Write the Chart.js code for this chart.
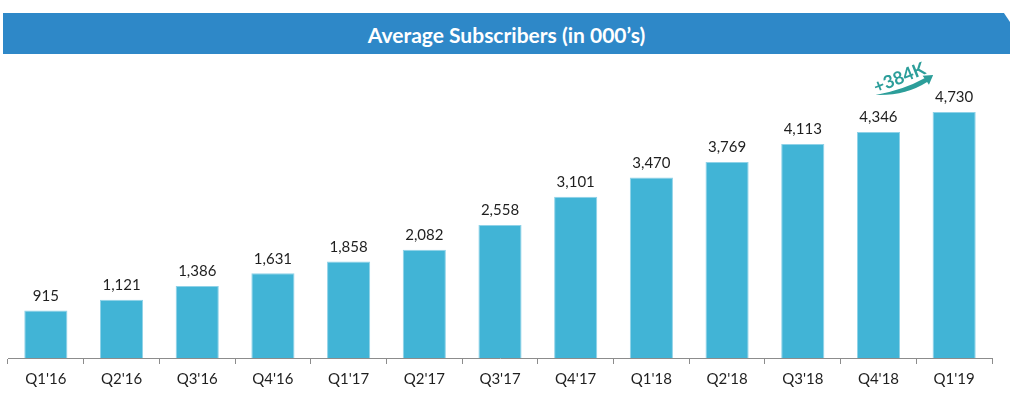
<!DOCTYPE html>
<html>
<head>
<meta charset="utf-8">
<script src="https://cdn.jsdelivr.net/npm/chart.js@4/dist/chart.umd.min.js"></script>
<style>
  html, body { margin: 0; padding: 0; background: #fff; }
  #wrap { position: relative; width: 1024px; height: 402px; }
  #banner {
    position: absolute; left: 3px; top: 13px; width: 1007px; height: 41px;
    background: #2E88C8;
    clip-path: polygon(0 0, 99.4% 0, 100% 22%, 100% 100%, 0 100%);
    color: #fff; font-family: Lato, "Open Sans", sans-serif; font-weight: bold;
    font-size: 21px; line-height: 43px; text-align: center;
  }
  canvas { position: absolute; left: 0; top: 0; }
</style>
</head>
<body>
<div id="wrap">
  <canvas id="subsChart" width="1024" height="402"></canvas>
  <div id="banner">Average Subscribers (in 000’s)</div>
</div>
<script>
// Quarter labels and average subscribers (000's)
const quarters = ["Q1'16", "Q2'16", "Q3'16", "Q4'16", "Q1'17", "Q2'17", "Q3'17", "Q4'17", "Q1'18", "Q2'18", "Q3'18", "Q4'18", "Q1'19"];
const subscribers = [915, 1121, 1386, 1631, 1858, 2082, 2558, 3101, 3470, 3769, 4113, 4346, 4730];
const growthLabel = '+384K';

const BAR_COLOR = '#41B4D6';
const TEXT_COLOR = '#1F1F1F';
const ARROW_COLOR = '#2C9E9A';

// value labels above each bar
const valueLabels = {
  id: 'valueLabels',
  afterDatasetsDraw(chart) {
    const { ctx } = chart;
    const meta = chart.getDatasetMeta(0);
    ctx.save();
    ctx.font = '15px Lato, "Open Sans", sans-serif';
    ctx.fillStyle = TEXT_COLOR;
    ctx.textAlign = 'center';
    ctx.textBaseline = 'bottom';
    meta.data.forEach((bar, i) => {
      ctx.fillText(subscribers[i].toLocaleString('en-US'), bar.x, bar.y - 7);
    });
    ctx.restore();
  }
};

// curved growth arrow between the last two bars
const growthArrow = {
  id: 'growthArrow',
  afterDatasetsDraw(chart) {
    const { ctx } = chart;
    const meta = chart.getDatasetMeta(0);
    const a = meta.data[meta.data.length - 2];
    const b = meta.data[meta.data.length - 1];
    const sx = a.x - 3, sy = 95;           // tail
    const tx = b.x - 21, ty = 75;          // tip
    const ang = -35 * Math.PI / 180;
    const dx = Math.cos(ang), dy = Math.sin(ang);
    const nx = -dy, ny = dx;
    const bx = tx - 9 * dx, by = ty - 9 * dy;
    ctx.save();
    ctx.fillStyle = ARROW_COLOR;
    ctx.beginPath();
    ctx.moveTo(sx, sy);
    ctx.quadraticCurveTo(sx + 30, sy + 1, bx + 2.3 * nx, by + 2.3 * ny);
    ctx.lineTo(bx + 5.5 * nx, by + 5.5 * ny);
    ctx.lineTo(tx, ty);
    ctx.lineTo(bx - 5.5 * nx, by - 5.5 * ny);
    ctx.lineTo(bx - 2.3 * nx, by - 2.3 * ny);
    ctx.quadraticCurveTo(sx + 28, sy - 5, sx, sy);
    ctx.closePath();
    ctx.fill();
    // rotated label
    ctx.translate(sx + 24, 78);
    ctx.rotate(-0.38);
    ctx.font = 'bold 18px Lato, "Open Sans", sans-serif';
    ctx.textAlign = 'center';
    ctx.textBaseline = 'middle';
    ctx.fillText(growthLabel, 0, 0);
    ctx.restore();
  }
};

new Chart(document.getElementById('subsChart'), {
  type: 'bar',
  data: {
    labels: quarters,
    datasets: [{
      data: subscribers,
      backgroundColor: BAR_COLOR,
      borderColor: '#8FD2E8',
      borderWidth: 1,
      categoryPercentage: 1,
      barPercentage: 0.57
    }]
  },
  options: {
    responsive: false,
    animation: false,
    layout: { padding: { left: 8, right: 32, top: 98, bottom: 8 } },
    plugins: {
      legend: { display: false },
      tooltip: { enabled: false }
    },
    scales: {
      y: {
        display: false,
        min: 0,
        max: 5000
      },
      x: {
        grid: {
          drawOnChartArea: false,
          color: '#8C8C8C',
          tickLength: 6,
          offset: true
        },
        border: { color: '#8C8C8C', width: 1 },
        ticks: {
          color: TEXT_COLOR,
          font: { family: 'Lato, "Open Sans", sans-serif', size: 15 },
          padding: 6,
          maxRotation: 0
        }
      }
    }
  },
  plugins: [valueLabels, growthArrow]
});
</script>
</body>
</html>
